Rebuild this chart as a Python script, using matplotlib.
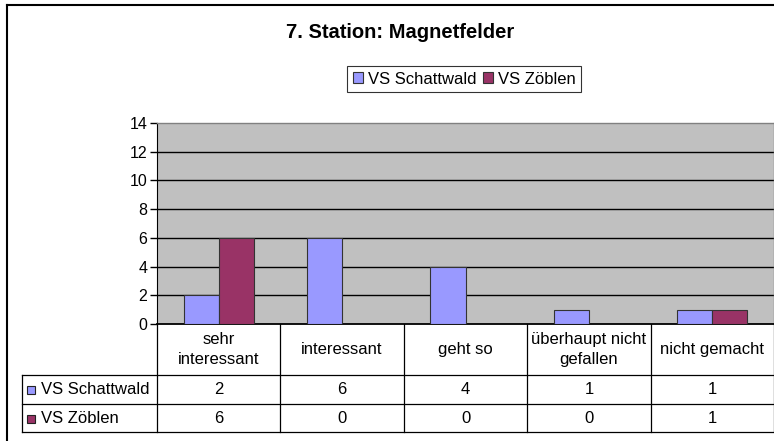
import matplotlib
matplotlib.use("Agg")
import matplotlib.pyplot as plt
from matplotlib.patches import Rectangle
from matplotlib.lines import Line2D
import numpy as np

plt.rcParams['font.family'] = ['Liberation Sans', 'DejaVu Sans']

title = "7. Station: Magnetfelder"
categories = ["sehr\ninteressant", "interessant", "geht so", "überhaupt nicht\ngefallen", "nicht gemacht"]
series_names = ["VS Schattwald", "VS Zöblen"]
schattwald = [2, 6, 4, 1, 1]
zoeblen = [6, 0, 0, 0, 1]
yticks = [0, 2, 4, 6, 8, 10, 12, 14]
colors = ["#9999FF", "#993366"]

W, H = 774, 441
fig = plt.figure(figsize=(W / 100, H / 100), dpi=100)

# overlay axes in pixel coordinates
ov = fig.add_axes([0, 0, 1, 1], zorder=0)
ov.set_xlim(0, W)
ov.set_ylim(H, 0)
ov.axis('off')

# plot area (pixels)
px0, px1, py_top, py_bot = 157, 774, 123, 324
ax = fig.add_axes([px0 / W, 1 - py_bot / H, (px1 - px0) / W, (py_bot - py_top) / H], zorder=2)
ax.set_facecolor("#C0C0C0")
n = len(categories)
x = np.arange(n) + 0.5
bw = 0.285
series = [schattwald, zoeblen]
handles = []
for i, (vals, c) in enumerate(zip(series, colors)):
    off = (i - 0.5) * bw
    b = ax.bar(x + off, vals, width=bw, color=c, edgecolor="#333333", linewidth=0.8, zorder=3)
    handles.append(b)
ax.set_xlim(0, n)
ax.set_ylim(0, 14)
ax.set_yticks(yticks)
ax.set_yticklabels([str(t) for t in yticks], fontsize=11.5)
ax.set_xticks([])
for t in yticks[1:-1]:
    ax.axhline(t, color="black", linewidth=1.0, zorder=1)
ax.tick_params(axis='y', length=5, width=1, color="black", pad=2)
for s in ["top", "right"]:
    ax.spines[s].set_color("#808080")
    ax.spines[s].set_linewidth(1)
ax.spines["left"].set_color("black")
ax.spines["bottom"].set_color("black")
ax.spines["bottom"].set_linewidth(1.3)

# title
ov.text(400, 33, title, ha="center", va="center", fontsize=14.5, fontweight="bold")

# legend
leg = fig.legend(handles, series_names, loc="center", bbox_to_anchor=(464 / W, 1 - 79 / H),
                 ncol=2, fontsize=12, frameon=True, fancybox=False, handlelength=0.6,
                 handleheight=0.6, handletextpad=0.3, columnspacing=0.4, borderpad=0.35,
                 borderaxespad=0)
leg.get_frame().set_edgecolor("black")
leg.get_frame().set_linewidth(0.8)

# outer border
ov.add_line(Line2D([7, 7], [5, H], color="black", linewidth=1.5))
ov.add_line(Line2D([7, W], [5, 5], color="black", linewidth=1.5))

# data table
cw = (px1 - px0) / n
row_top, r1, r2, r3 = py_bot, 375, 404, 432
tl = 22
lc = "black"
for i in range(n + 1):
    xx = px0 + i * cw
    ov.add_line(Line2D([xx, xx], [row_top, r3], color=lc, linewidth=0.9))
ov.add_line(Line2D([tl, tl], [r1, r3], color=lc, linewidth=0.9))
for yy in [r1, r2, r3]:
    ov.add_line(Line2D([tl, W], [yy, yy], color=lc, linewidth=0.9))

for i, cat in enumerate(categories):
    cx = px0 + (i + 0.5) * cw
    ov.text(cx, (row_top + r1) / 2, cat, ha="center", va="center", fontsize=12, linespacing=1.35)

row_y = [(r1 + r2) / 2, (r2 + r3) / 2]
for j, (name, vals, c) in enumerate(zip(series_names, series, colors)):
    yy = row_y[j]
    ov.add_patch(Rectangle((27, yy - 3.5), 8, 8, facecolor=c, edgecolor="#222222", linewidth=0.8))
    ov.text(41, yy + 0.5, name, ha="left", va="center", fontsize=12)
    for i, v in enumerate(vals):
        cx = px0 + (i + 0.5) * cw
        ov.text(cx, yy + 0.5, str(v), ha="center", va="center", fontsize=12)

fig.savefig("out.png", dpi=100)
